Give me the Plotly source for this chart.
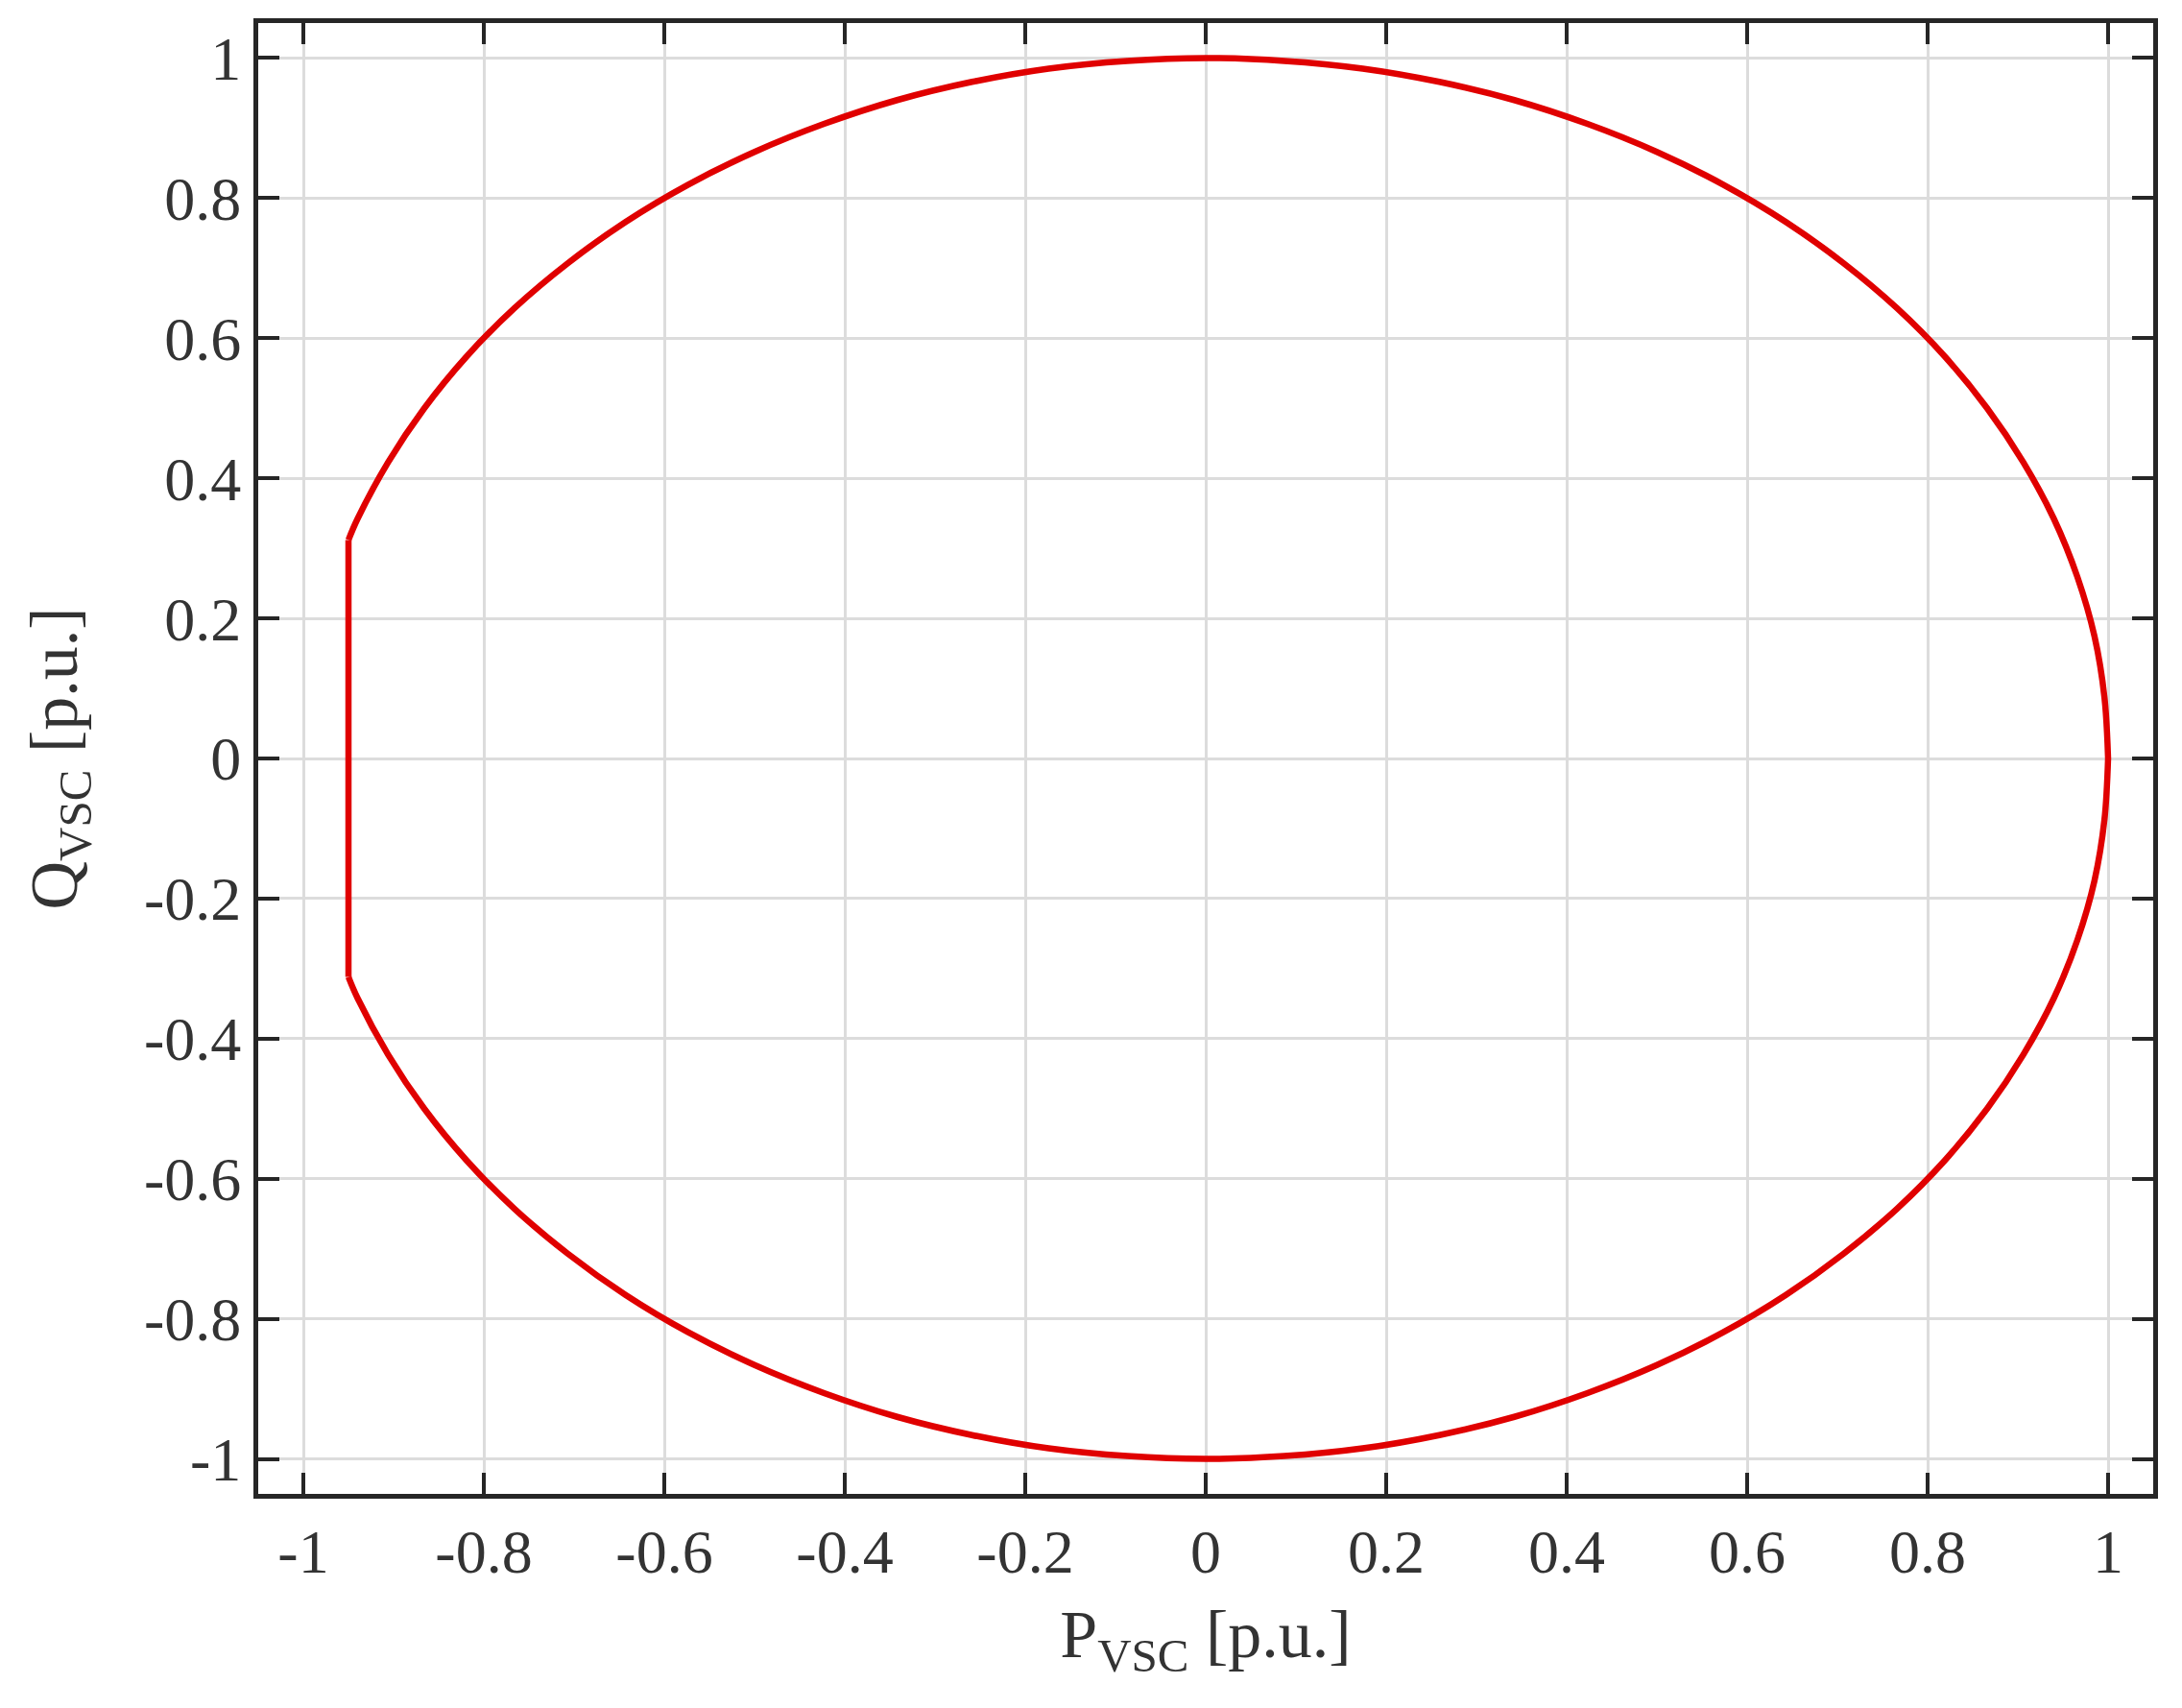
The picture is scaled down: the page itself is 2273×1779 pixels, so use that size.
import plotly.graph_objects as go

# VSC capability curve (counter-clockwise from P=1)
# upper arc: from (1, 0) round to the left corner
P_UPPER = [1.000, 0.996, 0.985, 0.966, 0.940, 0.906, 0.866, 0.819, 0.766, 0.707,
           0.643, 0.574, 0.500, 0.423, 0.342, 0.259, 0.174, 0.087, 0.000,
           -0.087, -0.174, -0.259, -0.342, -0.423, -0.500, -0.574, -0.643, -0.707,
           -0.766, -0.819, -0.866, -0.906, -0.940, -0.950]
Q_UPPER = [0.000, 0.087, 0.174, 0.259, 0.342, 0.423, 0.500, 0.574, 0.643, 0.707,
           0.766, 0.819, 0.866, 0.906, 0.940, 0.966, 0.985, 0.996, 1.000,
           0.996, 0.985, 0.966, 0.940, 0.906, 0.866, 0.819, 0.766, 0.707,
           0.643, 0.574, 0.500, 0.423, 0.342, 0.312]
# straight limit at P = -0.95
P_LIMIT = [-0.950, -0.950]
Q_LIMIT = [0.312, -0.312]
# lower arc: from the left corner back to (1, 0)
P_LOWER = [-0.950, -0.940, -0.906, -0.866, -0.819, -0.766, -0.707, -0.643, -0.574,
           -0.500, -0.423, -0.342, -0.259, -0.174, -0.087, 0.000,
           0.087, 0.174, 0.259, 0.342, 0.423, 0.500, 0.574, 0.643, 0.707,
           0.766, 0.819, 0.866, 0.906, 0.940, 0.966, 0.985, 0.996, 1.000]
Q_LOWER = [-0.312, -0.342, -0.423, -0.500, -0.574, -0.643, -0.707, -0.766, -0.819,
           -0.866, -0.906, -0.940, -0.966, -0.985, -0.996, -1.000,
           -0.996, -0.985, -0.966, -0.940, -0.906, -0.866, -0.819, -0.766, -0.707,
           -0.643, -0.574, -0.500, -0.423, -0.342, -0.259, -0.174, -0.087, 0.000]

TICK_VALS = [-1, -0.8, -0.6, -0.4, -0.2, 0, 0.2, 0.4, 0.6, 0.8, 1]
TICK_TEXT = ["-1", "-0.8", "-0.6", "-0.4", "-0.2", "0", "0.2", "0.4", "0.6", "0.8", "1"]

_FONT = "Liberation Serif"
_INK = "#262626"
_TEXT = "#333333"
_RED = "#e00000"

fig = go.Figure()
for xs, ys, shape in [(P_UPPER, Q_UPPER, "spline"), (P_LIMIT, Q_LIMIT, "linear"),
                      (P_LOWER, Q_LOWER, "spline")]:
    fig.add_trace(go.Scatter(x=xs, y=ys, mode="lines", showlegend=False,
                             line=dict(color=_RED, width=6.5, shape=shape)))

axis_style = dict(
    range=[-1.05, 1.05], tickvals=TICK_VALS, ticktext=TICK_TEXT,
    showline=True, linewidth=5, linecolor=_INK, mirror="allticks",
    ticks="inside", ticklen=22, tickwidth=4, tickcolor=_INK,
    showgrid=True, gridcolor="#dcdcdc", gridwidth=3, zeroline=False,
    tickfont=dict(family=_FONT, size=64, color=_TEXT),
)
fig.update_xaxes(**axis_style, title=dict(text="P<sub>VSC</sub> [p.u.]", standoff=28,
                                          font=dict(family=_FONT, size=70, color=_TEXT)))
fig.update_yaxes(**axis_style, title=dict(text="Q<sub>VSC</sub> [p.u.]", standoff=48,
                                          font=dict(family=_FONT, size=70, color=_TEXT)))

fig.update_layout(
    width=2273, height=1779,
    margin=dict(l=261, r=38, t=16, b=231),
    paper_bgcolor="white", plot_bgcolor="white",
)

fig.write_html("out.html")
